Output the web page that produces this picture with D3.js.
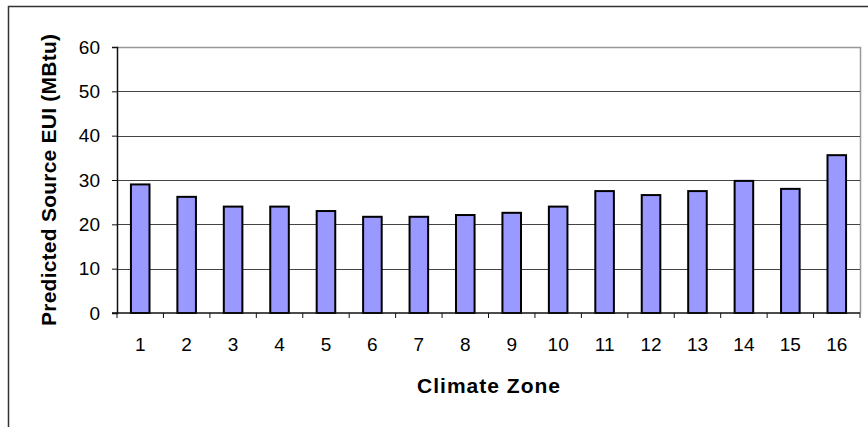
<!DOCTYPE html>
<html><head><meta charset="utf-8">
<script src="https://cdn.jsdelivr.net/npm/d3@7"></script>
<style>html,body{margin:0;padding:0;background:#fff;}svg{display:block;font-family:Arial,"Liberation Sans",sans-serif;}</style>
</head><body>
<script>
const categories = ["1","2","3","4","5","6","7","8","9","10","11","12","13","14","15","16"];
const values = [29.0, 26.2, 24.0, 24.0, 23.0, 21.7, 21.7, 22.1, 22.6, 24.0, 27.5, 26.6, 27.5, 29.8, 28.0, 35.6];
const yTicks = [0, 10, 20, 30, 40, 50, 60];
const yTitle = "Predicted Source EUI (MBtu)";
const xTitle = "Climate Zone";

const W = 868, H = 427;
const plot = {left: 117, right: 860, top: 47, bottom: 313};
const svg = d3.select("body").append("svg").attr("width", W).attr("height", H);

// outer chart border (right/bottom fall outside the picture)
svg.append("rect").attr("x", 8.5).attr("y", 6.5).attr("width", 880).attr("height", 440)
  .attr("fill", "#fff").attr("stroke", "#333").attr("stroke-width", 1.5);

const xb = d3.scaleBand().domain(categories).range([plot.left, plot.right]);
const y = d3.scaleLinear().domain([0, 60]).range([plot.bottom, plot.top]);

// plot area border (grey, top and right)
svg.append("path")
  .attr("d", `M${plot.left},${y(60)+0.5}H${plot.right+0.5}V${plot.bottom}`)
  .attr("fill", "none").attr("stroke", "#999").attr("stroke-width", 1.5);

// gridlines
svg.append("g").selectAll("line").data(yTicks.filter(t => t > 0 && t < 60)).join("line")
  .attr("x1", plot.left).attr("x2", plot.right)
  .attr("y1", d => Math.round(y(d)) + 0.5).attr("y2", d => Math.round(y(d)) + 0.5)
  .attr("stroke", "#444").attr("stroke-width", 1);

// y axis
const yAxis = svg.append("g").attr("transform", `translate(${plot.left},0)`)
  .call(d3.axisLeft(y).tickValues(yTicks).tickSize(5).tickPadding(12));
yAxis.select(".domain").attr("stroke", "#111").attr("stroke-width", 1.5);
yAxis.selectAll(".tick line").attr("stroke", "#111");
yAxis.selectAll("text").attr("font-size", 19).attr("fill", "#000")
  .attr("font-family", 'Arial,"Liberation Sans",sans-serif');

// bars
svg.append("g").selectAll("rect").data(values).join("rect")
  .attr("x", (d, i) => xb(categories[i]) + xb.bandwidth() * 0.3)
  .attr("width", xb.bandwidth() * 0.4)
  .attr("y", d => y(d))
  .attr("height", d => y(0) - y(d))
  .attr("fill", "#9999FF").attr("stroke", "#000").attr("stroke-width", 2);

// x axis
const xAxisG = svg.append("g").attr("transform", `translate(0,${plot.bottom})`);
xAxisG.append("line").attr("x1", plot.left - 5).attr("x2", plot.right)
  .attr("y1", 0).attr("y2", 0).attr("stroke", "#111").attr("stroke-width", 1.5);
const boundaries = categories.map(c => xb(c)).concat([plot.right]);
xAxisG.selectAll("line.tk").data(boundaries).join("line").attr("class", "tk")
  .attr("x1", d => d).attr("x2", d => d).attr("y1", 0).attr("y2", 5)
  .attr("stroke", "#111").attr("stroke-width", 1);
xAxisG.selectAll("text").data(categories).join("text")
  .attr("x", c => xb(c) + xb.bandwidth() / 2).attr("y", 38)
  .attr("text-anchor", "middle").attr("font-size", 19).attr("fill", "#000").text(c => c);

// axis titles
svg.append("text")
  .attr("transform", `translate(56,${(plot.top + plot.bottom) / 2}) rotate(-90)`)
  .attr("text-anchor", "middle").attr("font-size", 21).attr("font-weight", "bold")
  .attr("textLength", 292).attr("lengthAdjust", "spacing").text(yTitle);
svg.append("text")
  .attr("x", (plot.left + plot.right) / 2).attr("y", 393)
  .attr("text-anchor", "middle").attr("font-size", 21).attr("font-weight", "bold")
  .attr("textLength", 143).attr("lengthAdjust", "spacing").text(xTitle);
</script>
</body></html>
